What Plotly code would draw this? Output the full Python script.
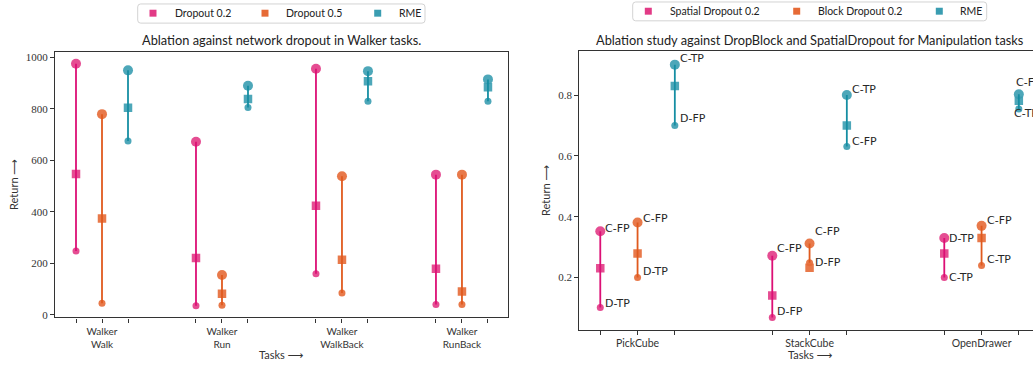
import plotly.graph_objects as go

# ---------------- data: Walker (left) ----------------
walker_tasks = ["Walker<br>Walk", "Walker<br>Run", "Walker<br>WalkBack", "Walker<br>RunBack"]
walker_series = ["Dropout 0.2", "Dropout 0.5", "RME"]
drop02_max = [975, 672, 955, 544]
drop02_mean = [546, 220, 423, 178]
drop02_min = [247, 35, 159, 40]
drop05_max = [779, 154, 538, 544]
drop05_mean = [374, 81, 213, 90]
drop05_min = [44, 37, 84, 40]
rmew_max = [949, 889, 946, 914]
rmew_mean = [804, 838, 907, 883]
rmew_min = [675, 805, 829, 829]
walker_yticks = [0, 200, 400, 600, 800, 1000]

# ---------------- data: Manipulation (right) ----------------
manip_tasks = ["PickCube", "StackCube", "OpenDrawer"]
manip_series = ["Spatial Dropout 0.2", "Block Dropout 0.2", "RME"]
spatial_max = [0.352, 0.272, 0.330]
spatial_mean = [0.231, 0.141, 0.279]
spatial_min = [0.102, 0.069, 0.200]
block_max = [0.381, 0.312, 0.370]
block_mean = [0.279, 0.232, 0.330]
block_min = [0.200, 0.249, 0.240]
rmem_max = [0.900, 0.800, 0.803]
rmem_mean = [0.830, 0.700, 0.781]
rmem_min = [0.700, 0.631, 0.754]
spatial_max_lbl = ["C-FP", "C-FP", "D-TP"]
spatial_min_lbl = ["D-TP", "D-FP", "C-TP"]
block_max_lbl = ["C-FP", "C-FP", "C-FP"]
block_min_lbl = ["D-TP", "D-FP", "C-TP"]
rmem_max_lbl = ["C-TP", "C-TP", "C-FP"]
rmem_min_lbl = ["D-FP", "C-FP", "C-TP"]
manip_yticks = [0.2, 0.4, 0.6, 0.8]

# ---------------- style ----------------
W, H = 1033, 367
line_colors = ["#dc0f75", "#e05a1e", "#168ea3"]
marker_colors = ["#e23a86", "#e66a36", "#3a9db1"]
OFF = 0.2167
SANS = "Lato, 'DejaVu Sans', sans-serif"
SERIF = "'Liberation Serif', serif"
LBL = "'DejaVu Sans', sans-serif"
AX = "#333333"

max_shift = [[(3, 3), (3, 7), (3, 0)], [(3, 4), (3, 12), (3, 5)], [(3, 6), (3, 6), (-5, 12)]]
min_shift = [[(3, 4), (3, 6), (3, 0)], [(3, 6), (3, 0), (3, 6)], [(3, 7), (3, 5), (-7, -4)]]

# legend layout (pixels): box (x0, y0, x1, y1), key square centres x, key centre y, text start x
legend_left = dict(box=(137.7, 4, 425, 23.3), keys=[153, 265, 377.7], ky=13.3, tx=[172.7, 284, 396.7])
legend_right = dict(box=(632.7, 2, 986.7, 21), keys=[648.3, 796.7, 939.3], ky=11.3, tx=[668.3, 816, 957.7])


def px_x(p):
    return p / W


def px_y(p):
    return (H - p) / H


fig = go.Figure()


def add_group(xa, ya, n_tasks, series, maxs, means, mins):
    for j, name in enumerate(series):
        xs = [i + (j - 1) * OFF for i in range(n_tasks)]
        lc, mc = line_colors[j], marker_colors[j]
        fig.add_trace(go.Scatter(x=xs, y=maxs[j], mode="markers", xaxis=xa, yaxis=ya, name=name,
                                 marker=dict(symbol="circle", size=10, color=mc, opacity=0.9),
                                 showlegend=False, hoverinfo="skip"))
        fig.add_trace(go.Scatter(x=xs, y=mins[j], mode="markers", xaxis=xa, yaxis=ya, name=name,
                                 marker=dict(symbol="circle", size=7, color=mc, opacity=0.9),
                                 showlegend=False, hoverinfo="skip"))
        fig.add_trace(go.Scatter(x=xs, y=means[j], mode="markers", xaxis=xa, yaxis=ya, name=name,
                                 marker=dict(symbol="square", size=8.5, color=mc, opacity=0.9),
                                 showlegend=False, hoverinfo="skip"))
        lx, ly = [], []
        for i in range(n_tasks):
            lx += [xs[i], xs[i], None]
            ly += [mins[j][i], maxs[j][i], None]
        fig.add_trace(go.Scatter(x=lx, y=ly, mode="lines", xaxis=xa, yaxis=ya, name=name,
                                 line=dict(color=lc, width=1.8),
                                 showlegend=False, hoverinfo="skip"))


add_group("x", "y", 4, walker_series,
          [drop02_max, drop05_max, rmew_max],
          [drop02_mean, drop05_mean, rmew_mean],
          [drop02_min, drop05_min, rmew_min])
add_group("x2", "y2", 3, manip_series,
          [spatial_max, block_max, rmem_max],
          [spatial_mean, block_mean, rmem_mean],
          [spatial_min, block_min, rmem_min])

annotations = []
m_max = [spatial_max, block_max, rmem_max]
m_min = [spatial_min, block_min, rmem_min]
l_max = [spatial_max_lbl, block_max_lbl, rmem_max_lbl]
l_min = [spatial_min_lbl, block_min_lbl, rmem_min_lbl]
for j in range(3):
    for i in range(3):
        xv = i + (j - 1) * OFF
        for vals, lbls, sh in ((m_max, l_max, max_shift), (m_min, l_min, min_shift)):
            annotations.append(dict(x=xv, y=vals[j][i], xref="x2", yref="y2", text=lbls[j][i],
                                    showarrow=False, xanchor="left", yanchor="middle",
                                    xshift=sh[j][i][0], yshift=sh[j][i][1],
                                    font=dict(family=LBL, size=11, color="#262626")))

annotations += [
    dict(x=px_x(281.5), y=px_y(40.7), xref="paper", yref="paper", showarrow=False,
         text="Ablation against network dropout in Walker tasks.", xanchor="center", yanchor="middle",
         font=dict(family=SANS, size=12.8, color="#222")),
    dict(x=px_x(809.5), y=px_y(40.7), xref="paper", yref="paper", showarrow=False,
         text="Ablation study against DropBlock and SpatialDropout for Manipulation tasks",
         xanchor="center", yanchor="middle", font=dict(family=SANS, size=12.8, color="#222")),
    dict(x=px_x(281.5), y=px_y(357.5), xref="paper", yref="paper", showarrow=False,
         text="Tasks ⟶", xanchor="center", yanchor="middle", font=dict(family=SANS, size=11, color="#333")),
    dict(x=px_x(810), y=px_y(357.5), xref="paper", yref="paper", showarrow=False,
         text="Tasks ⟶", xanchor="center", yanchor="middle", font=dict(family=SANS, size=11, color="#333")),
    dict(x=px_x(13.5), y=px_y(186), xref="paper", yref="paper", showarrow=False, textangle=-90,
         text="Return ⟶", xanchor="center", yanchor="middle", font=dict(family=SANS, size=11, color="#333")),
    dict(x=px_x(545.5), y=px_y(192), xref="paper", yref="paper", showarrow=False, textangle=-90,
         text="Return ⟶", xanchor="center", yanchor="middle", font=dict(family=SANS, size=11, color="#333")),
]


# ---------------- legends (drawn as layout shapes + text) ----------------
def rounded_rect(x0, y0, x1, y1, r):
    pts = []
    pts.append(f"M {px_x(x0 + r)},{px_y(y0)}")
    pts.append(f"L {px_x(x1 - r)},{px_y(y0)}")
    pts.append(f"Q {px_x(x1)},{px_y(y0)} {px_x(x1)},{px_y(y0 + r)}")
    pts.append(f"L {px_x(x1)},{px_y(y1 - r)}")
    pts.append(f"Q {px_x(x1)},{px_y(y1)} {px_x(x1 - r)},{px_y(y1)}")
    pts.append(f"L {px_x(x0 + r)},{px_y(y1)}")
    pts.append(f"Q {px_x(x0)},{px_y(y1)} {px_x(x0)},{px_y(y1 - r)}")
    pts.append(f"L {px_x(x0)},{px_y(y0 + r)}")
    pts.append(f"Q {px_x(x0)},{px_y(y0)} {px_x(x0 + r)},{px_y(y0)} Z")
    return " ".join(pts)


shapes = []
for lg, names in ((legend_left, walker_series), (legend_right, manip_series)):
    bx0, by0, bx1, by1 = lg["box"]
    shapes.append(dict(type="path", xref="paper", yref="paper", path=rounded_rect(bx0, by0, bx1, by1, 3),
                       line=dict(color="#d3d3d3", width=1), fillcolor="white", layer="above"))
    for k, name in enumerate(names):
        kx, ky, s = lg["keys"][k], lg["ky"], 3.5
        shapes.append(dict(type="rect", xref="paper", yref="paper",
                           x0=px_x(kx - s), x1=px_x(kx + s), y0=px_y(ky + s), y1=px_y(ky - s),
                           line=dict(width=0), fillcolor=marker_colors[k], layer="above"))
        annotations.append(dict(x=px_x(lg["tx"][k]), y=px_y(ky - 0.5), xref="paper", yref="paper",
                                text=name, showarrow=False, xanchor="left", yanchor="middle",
                                font=dict(family=SANS, size=10.5, color="#222")))

wx_vals, wx_text = [], []
for i, t in enumerate(walker_tasks):
    for j in range(3):
        wx_vals.append(i + (j - 1) * OFF)
        wx_text.append(t if j == 1 else "")
mx_vals, mx_text = [], []
for i, t in enumerate(manip_tasks):
    for j in range(3):
        mx_vals.append(i + (j - 1) * OFF)
        mx_text.append(t if j == 1 else "")

axis_common = dict(showline=True, linecolor=AX, linewidth=1.3, ticks="outside", ticklen=4,
                   tickwidth=1, tickcolor=AX, showgrid=False, zeroline=False)

fig.update_layout(
    width=W, height=H, margin=dict(l=0, r=0, t=0, b=0),
    paper_bgcolor="white", plot_bgcolor="white",
    annotations=annotations, shapes=shapes, showlegend=False,
    xaxis=dict(domain=[px_x(55), px_x(508)], range=[-OFF - 0.175, 3 + OFF + 0.167],
               tickvals=wx_vals, ticktext=wx_text, mirror=True,
               tickfont=dict(family=SANS, size=10, color="#333"), **axis_common),
    yaxis=dict(domain=[px_y(320), px_y(52)], range=[-10.4, 1022], tickvals=walker_yticks,
               mirror=True, tickfont=dict(family=SERIF, size=11, color="#333"), **axis_common),
    xaxis2=dict(domain=[px_x(579.3), 1.0], range=[-OFF - 0.122, -OFF - 0.122 + (W - 579.3) / 172.0],
                tickvals=mx_vals, ticktext=mx_text, mirror=True, anchor="y2",
                tickfont=dict(family=SANS, size=10.5, color="#333"), **axis_common),
    yaxis2=dict(domain=[px_y(332.3), px_y(51.7)], range=[0.029, 0.944], tickvals=manip_yticks,
                tickformat=".1f", anchor="x2", mirror=False,
                tickfont=dict(family=SERIF, size=11, color="#333"), **axis_common),
)

fig.write_html("out.html")
